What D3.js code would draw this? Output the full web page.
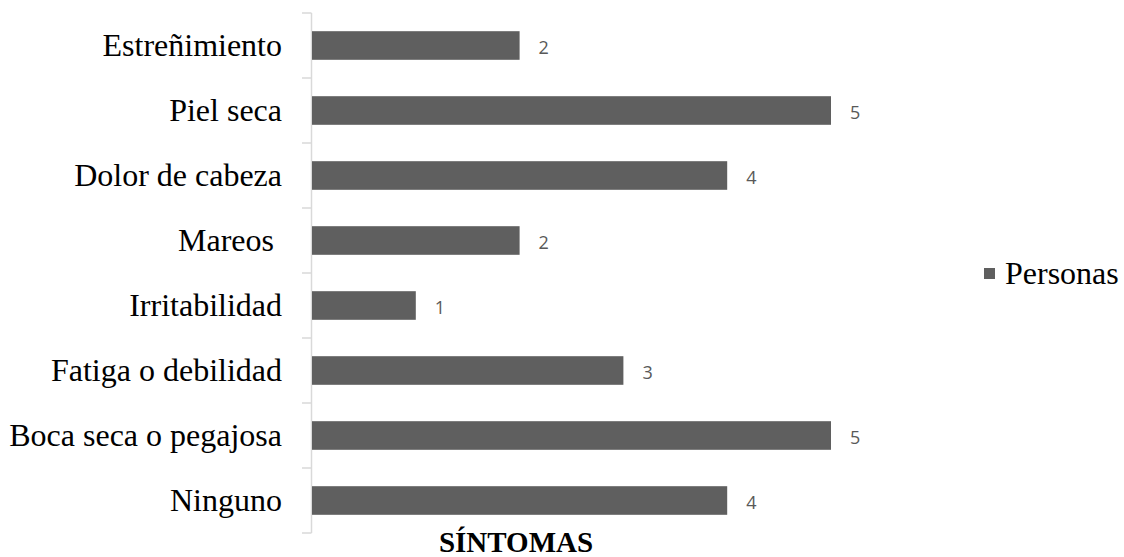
<!DOCTYPE html>
<html>
<head>
<meta charset="utf-8">
<script src="https://cdn.jsdelivr.net/npm/d3@7"></script>
<style>
    body { margin: 0; background: #fff; }
</style>
</head>
<body>
<div id="chart"></div>
<script>
const categories = ["Estreñimiento", "Piel seca", "Dolor de cabeza", "Mareos ", "Irritabilidad",
    "Fatiga o debilidad", "Boca seca o pegajosa", "Ninguno"];
const personas = [2, 5, 4, 2, 1, 3, 5, 4];
const seriesName = "Personas";
const axisTitle = "SÍNTOMAS";

const width = 1124, height = 557;
const barColor = "#5f5f5f";

const svg = d3.select("#chart")
    .append("svg")
    .attr("width", width)
    .attr("height", height);

const x = d3.scaleLinear()
    .domain([0, 5])
    .range([312, 831]);

const y = d3.scaleBand()
    .domain(categories)
    .range([13, 533])
    .padding(0);

const barH = y.bandwidth() * 0.44;

// axis line + boundary ticks
svg.append("line")
    .attr("x1", 311.5).attr("x2", 311.5)
    .attr("y1", y.range()[0]).attr("y2", y.range()[1])
    .attr("stroke", "#d9d9d9")
    .attr("stroke-width", 1.5);

const bounds = categories.map(c => y(c)).concat([y.range()[1]]);
svg.selectAll(".tick")
    .data(bounds)
    .join("line")
    .attr("class", "tick")
    .attr("x1", 302).attr("x2", 311.5)
    .attr("y1", d => d).attr("y2", d => d)
    .attr("stroke", "#d9d9d9")
    .attr("stroke-width", 1.5);

// bars
svg.selectAll(".bar")
    .data(personas)
    .join("rect")
    .attr("class", "bar")
    .attr("x", x(0))
    .attr("y", (_, i) => y(categories[i]) + (y.bandwidth() - barH) / 2)
    .attr("width", d => x(d) - x(0))
    .attr("height", barH)
    .attr("fill", barColor);

// value labels
svg.selectAll(".val")
    .data(personas)
    .join("text")
    .attr("class", "val")
    .attr("x", d => x(d) + 19)
    .attr("y", (_, i) => y(categories[i]) + y.bandwidth() / 2)
    .attr("dy", "0.45em")
    .attr("font-family", "'Open Sans', sans-serif")
    .attr("font-size", 18)
    .attr("fill", "#595959")
    .text(d => d);

// category labels
svg.selectAll(".cat")
    .data(categories)
    .join("text")
    .attr("class", "cat")
    .attr("x", 282)
    .attr("y", d => y(d) + y.bandwidth() / 2)
    .attr("dy", "0.32em")
    .attr("text-anchor", "end")
    .attr("xml:space", "preserve")
    .style("white-space", "pre")
    .attr("font-family", "'Liberation Serif', 'Times New Roman', serif")
    .attr("font-size", 32)
    .attr("fill", "#000")
    .text(d => d);

// axis title
svg.append("text")
    .attr("x", 516)
    .attr("y", 552)
    .attr("text-anchor", "middle")
    .attr("font-family", "'Liberation Serif', 'Times New Roman', serif")
    .attr("font-size", 29)
    .attr("font-weight", "bold")
    .text(axisTitle);

// legend
const legend = svg.append("g").attr("transform", "translate(984, 268)");
legend.append("rect")
    .attr("width", 11).attr("height", 11)
    .attr("fill", barColor);
legend.append("text")
    .attr("x", 21)
    .attr("y", 5.5)
    .attr("dy", "0.34em")
    .attr("font-family", "'Liberation Serif', 'Times New Roman', serif")
    .attr("font-size", 32)
    .text(seriesName);
</script>
</body>
</html>
